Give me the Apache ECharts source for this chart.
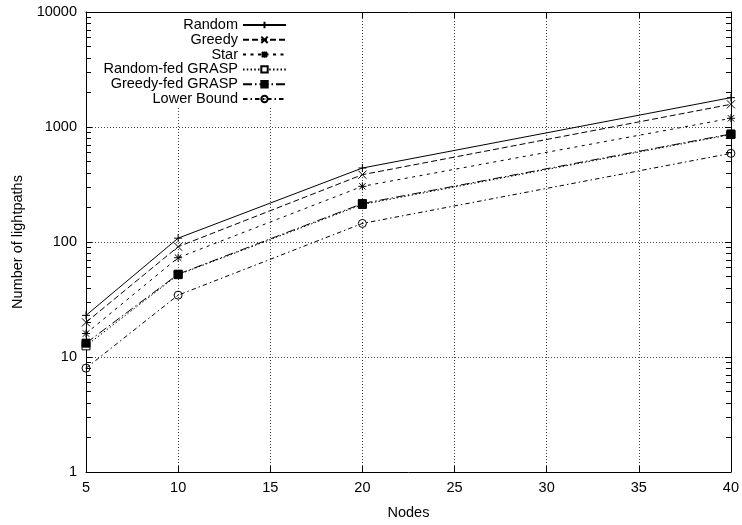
<!DOCTYPE html>
<html>
<head>
<meta charset="utf-8">
<script src="https://cdn.jsdelivr.net/npm/echarts@6/dist/echarts.min.js"></script>
<style>
  html, body { margin: 0; padding: 0; background: #fff; }
  #chart { width: 742px; height: 525px; }
</style>
</head>
<body>
<div id="chart"></div>
<script>
// Lightpath counts per network size (log scale)
const nodes = [5, 10, 20, 40];
const seriesNames = ['Random', 'Greedy', 'Star', 'Random-fed GRASP', 'Greedy-fed GRASP', 'Lower Bound'];
const randomVals = [23, 108, 440, 1800];
const greedyVals = [20, 91, 385, 1575];
const starVals = [16, 73, 305, 1190];
const randomGraspVals = [12.5, 52, 212, 860];
const greedyGraspVals = [13.2, 52.5, 216, 870];
const lowerBoundVals = [8, 34.5, 145, 590];
const xMin = 5, xMax = 40, xStep = 5;
const yMin = 1, yMax = 10000;

const FONT_FAMILY = 'Liberation Sans';
const FONT_SIZE = 14.5;
const BLACK = '#000';

const valueSets = [randomVals, greedyVals, starVals, randomGraspVals, greedyGraspVals, lowerBoundVals];
const dashes = ['solid', [6, 3], [3, 4.5], [1.5, 2.25], [9, 3, 1.5, 3], [4.5, 3, 1.5, 3]];
const symbols = [
  'path://M0,5L10,5M5,0L5,10',
  'path://M0,0L10,10M0,10L10,0',
  'path://M0,5L10,5M5,0L5,10M1,1L9,9M1,9L9,1',
  'rect',
  'rect',
  'path://M10,5A5,5 0 1 1 0,5A5,5 0 1 1 10,5ZM5,4.4L5,5.6'
];
const symbolFills = ['none', 'none', 'none', '#fff', BLACK, 'none'];
const symbolSizes = [8, 8, 8, 8, 8, 8];

const lineSeries = seriesNames.map((name, i) => ({
  name: name,
  type: 'line',
  data: nodes.map((n, j) => [n, valueSets[i][j]]),
  symbol: symbols[i],
  symbolSize: symbolSizes[i],
  showAllSymbol: true,
  lineStyle: { color: BLACK, width: 1, type: dashes[i] },
  itemStyle: { color: symbolFills[i], borderColor: BLACK, borderWidth: 1 },
  emphasis: { disabled: true },
  animation: false,
  z: 3
}));

// text widths, so every key box starts at the same left edge
const measureCtx = document.createElement('canvas').getContext('2d');
measureCtx.font = FONT_SIZE + 'px ' + FONT_FAMILY;
function textWidth(s) { return measureCtx.measureText(s).width; }

// one key entry per row so the samples line up on the right
const keyRight = 287, keyLeft = 95, sampleW = 43;
const rowCenter0 = 25, rowStep = 14.8, textH = 15;
const legends = seriesNames.map((name, i) => {
  const center = rowCenter0 + i * rowStep;
  const padTop = i === 0 ? (center - textH / 2 - 13) : 1;
  const padBottom = 1;
  const padRight = 14;
  const padLeft = Math.max(2, keyRight - sampleW - 5 - textWidth(name) - keyLeft);
  return {
    data: [name],
    orient: 'vertical',
    align: 'right',
    right: 742 - keyRight - padRight,
    top: center - textH / 2 - padTop,
    padding: [padTop, padRight, padBottom, padLeft],
    backgroundColor: '#fff',
    itemWidth: sampleW,
    itemHeight: 8,
    itemGap: 0,
    selectedMode: false,
    textStyle: { color: BLACK, fontSize: FONT_SIZE, fontFamily: FONT_FAMILY, lineHeight: textH },
    z: 5
  };
});

const axisText = { color: BLACK, fontSize: FONT_SIZE, fontFamily: FONT_FAMILY };
const borderLine = { show: true, lineStyle: { color: BLACK, width: 1 } };
const majorTick = { show: true, inside: true, length: 6, lineStyle: { color: BLACK, width: 1 } };
const logMinorTick = { show: true, splitNumber: 9, length: 5, lineStyle: { color: BLACK, width: 1 } };
const gridDots = { show: true, lineStyle: { color: '#444', width: 1, type: [1, 2] } };

const chart = echarts.init(document.getElementById('chart'), null, { renderer: 'canvas' });
chart.setOption({
  backgroundColor: '#fff',
  animation: false,
  grid: { left: 86, right: 4, top: 12, bottom: 46, containLabel: false },
  legend: legends,
  xAxis: [
    {
      type: 'value', min: xMin, max: xMax, interval: xStep, position: 'bottom',
      name: 'Nodes', nameLocation: 'middle', nameGap: 33,
      nameTextStyle: axisText,
      axisLine: borderLine,
      axisTick: majorTick,
      axisLabel: Object.assign({ margin: 8 }, axisText),
      splitLine: gridDots
    },
    {
      type: 'value', min: xMin, max: xMax, interval: xStep, position: 'top',
      axisLine: borderLine,
      axisTick: majorTick,
      axisLabel: { show: false },
      splitLine: { show: false }
    }
  ],
  yAxis: [
    {
      type: 'log', logBase: 10, min: yMin, max: yMax, position: 'left',
      name: 'Number of lightpaths', nameLocation: 'middle', nameGap: 60, nameRotate: 90,
      nameTextStyle: axisText,
      axisLine: borderLine,
      axisTick: majorTick,
      minorTick: logMinorTick,
      axisLabel: Object.assign({ margin: 9, formatter: v => String(Math.round(v)) }, axisText),
      splitLine: gridDots
    },
    {
      type: 'log', logBase: 10, min: yMin, max: yMax, position: 'right',
      axisLine: borderLine,
      axisTick: majorTick,
      minorTick: logMinorTick,
      axisLabel: { show: false },
      splitLine: { show: false }
    }
  ],
  series: lineSeries
});
</script>
</body>
</html>
